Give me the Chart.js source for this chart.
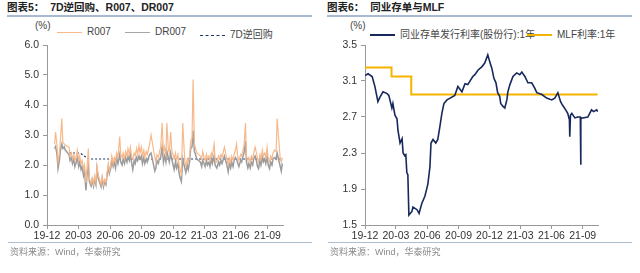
<!DOCTYPE html>
<html>
<head>
<meta charset="utf-8">
<script src="https://cdn.jsdelivr.net/npm/chart.js@4.4.0/dist/chart.umd.min.js"></script>
<style>
  body { margin: 0; background: #fff; width: 640px; height: 273px; overflow: hidden; position: relative;
         font-family: "Liberation Sans", Arial, "Noto Sans CJK SC", sans-serif; }
  .title { position: absolute; top: 1px; font-size: 10.5px; line-height: 13px; font-weight: bold; color: #222; white-space: nowrap; }
  .rule { position: absolute; height: 2px; background: #a9b9d0; }
  .src { position: absolute; top: 245px; font-size: 9px; color: #8a8a8a; white-space: nowrap; }
  .sep { position: absolute; top: 242px; height: 1px; background: #aebcd0; }
  .unit { position: absolute; top: 20px; font-size: 10px; color: #444; }
  .leg { position: absolute; top: 26px; font-size: 10px; color: #444; white-space: nowrap; }
  .leg span.k { display: inline-block; width: 25px; height: 0; vertical-align: middle; margin-right: 5px; }
  .leg .it { position: absolute; top: 0; }
  canvas { position: absolute; }
</style>
</head>
<body>
<div class="title" style="left:7px">图表5：&nbsp;&nbsp;7D逆回购、R007、DR007</div>
<div class="rule" style="left:7px; width:305px; top:15px"></div>
<div class="title" style="left:327px">图表6：&nbsp;&nbsp;同业存单与MLF</div>
<div class="rule" style="left:327px; width:305px; top:15px"></div>

<div class="unit" style="left:35px">(%)</div>
<div class="leg">
  <div class="it" style="left:57px"><span class="k" style="border-top:1.5px solid #f7b98b"></span>R007</div>
  <div class="it" style="left:125px"><span class="k" style="border-top:1.5px solid #a6a6a6"></span>DR007</div>
  <div class="it" style="left:200px"><span class="k" style="border-top:1.5px dashed #1f3368"></span>7D逆回购</div>
</div>
<div class="unit" style="left:350px">(%)</div>
<div class="leg">
  <div class="it" style="left:370px"><span class="k" style="border-top:2px solid #17285c"></span>同业存单发行利率(股份行):1年</div>
  <div class="it" style="left:527px"><span class="k" style="border-top:2px solid #f5b400"></span>MLF利率:1年</div>
</div>

<canvas id="left" width="300" height="215" style="left:0; top:30px"></canvas>
<canvas id="right" width="300" height="215" style="left:320px; top:30px"></canvas>

<div class="sep" style="left:8px; width:304px"></div>
<div class="sep" style="left:328px; width:304px"></div>
<div class="src" style="left:10px">资料来源：Wind，华泰研究</div>
<div class="src" style="left:330px">资料来源：Wind，华泰研究</div>

<script>
// x axis ticks (quarterly)
const tickDates = ['2019-12-01', '2020-03-01', '2020-06-01', '2020-09-01', '2020-12-01', '2021-03-01', '2021-06-01', '2021-09-01'];
const tickLabels = ['19-12', '20-03', '20-06', '20-09', '20-12', '21-03', '21-06', '21-09'];

// chart 5: R007 / DR007 (same dates)
const rateDates = [
  '2019-12-23','2019-12-26','2019-12-30','2020-01-02','2020-01-06','2020-01-09','2020-01-13','2020-01-16','2020-01-20','2020-01-23',
  '2020-02-03','2020-02-06','2020-02-10','2020-02-13','2020-02-17','2020-02-20','2020-02-24','2020-02-27',
  '2020-03-02','2020-03-05','2020-03-09','2020-03-12','2020-03-16','2020-03-19','2020-03-23','2020-03-26','2020-03-30',
  '2020-04-02','2020-04-07','2020-04-10','2020-04-14','2020-04-17','2020-04-21','2020-04-24','2020-04-28',
  '2020-05-06','2020-05-09','2020-05-13','2020-05-16','2020-05-20','2020-05-23','2020-05-27','2020-05-30',
  '2020-06-03','2020-06-06','2020-06-10','2020-06-13','2020-06-17','2020-06-20','2020-06-24','2020-06-29',
  '2020-07-02','2020-07-06','2020-07-09','2020-07-13','2020-07-16','2020-07-20','2020-07-23','2020-07-27','2020-07-30',
  '2020-08-03','2020-08-06','2020-08-10','2020-08-13','2020-08-17','2020-08-20','2020-08-24','2020-08-27','2020-08-31',
  '2020-09-03','2020-09-07','2020-09-10','2020-09-14','2020-09-17','2020-09-21','2020-09-24','2020-09-28',
  '2020-10-09','2020-10-12','2020-10-15','2020-10-19','2020-10-22','2020-10-26','2020-10-30',
  '2020-11-03','2020-11-06','2020-11-10','2020-11-13','2020-11-17','2020-11-20','2020-11-24','2020-11-27',
  '2020-12-01','2020-12-04','2020-12-08','2020-12-11','2020-12-15','2020-12-18','2020-12-22','2020-12-25','2020-12-29',
  '2021-01-04','2021-01-07','2021-01-11','2021-01-14','2021-01-18','2021-01-21','2021-01-25','2021-01-28',
  '2021-02-01','2021-02-04','2021-02-08','2021-02-18','2021-02-22','2021-02-25',
  '2021-03-01','2021-03-04','2021-03-08','2021-03-11','2021-03-15','2021-03-18','2021-03-22','2021-03-25','2021-03-30',
  '2021-04-02','2021-04-07','2021-04-12','2021-04-15','2021-04-19','2021-04-22','2021-04-26','2021-04-29',
  '2021-05-06','2021-05-10','2021-05-13','2021-05-17','2021-05-20','2021-05-24','2021-05-27','2021-05-31',
  '2021-06-03','2021-06-07','2021-06-10','2021-06-15','2021-06-18','2021-06-22','2021-06-25','2021-06-29',
  '2021-07-02','2021-07-06','2021-07-09','2021-07-13','2021-07-16','2021-07-20','2021-07-23','2021-07-27','2021-07-30',
  '2021-08-03','2021-08-06','2021-08-10','2021-08-13','2021-08-17','2021-08-20','2021-08-24','2021-08-27','2021-08-31',
  '2021-09-03','2021-09-07','2021-09-10','2021-09-14','2021-09-17','2021-09-22','2021-09-26','2021-09-29',
  '2021-10-08','2021-10-11','2021-10-14'
];
const r007 = [
  2.70,3.10,2.65,2.10,2.40,2.85,3.55,2.75,2.70,2.65,
  2.60,2.30,2.40,2.20,2.35,2.15,2.30,2.50,
  2.15,2.30,2.05,2.15,1.85,2.00,1.40,1.85,2.55,
  1.55,1.38,1.57,1.37,1.62,1.42,1.97,1.65,
  1.35,1.62,1.36,1.52,1.42,1.70,2.05,1.80,
  2.00,2.30,2.05,2.25,2.10,2.40,2.25,2.95,
  2.35,2.25,2.40,2.20,2.45,2.30,2.55,2.35,2.60,
  2.25,2.20,2.40,2.30,2.55,2.35,2.65,2.40,2.60,
  2.30,2.50,2.25,2.45,2.35,2.55,2.70,3.00,
  2.25,2.10,2.35,2.25,2.40,2.60,3.40,
  2.40,2.60,2.35,3.40,2.55,2.40,3.10,2.50,
  2.35,2.20,2.40,2.15,2.35,2.05,1.80,1.70,3.40,
  2.10,1.95,2.20,2.10,2.30,2.80,2.90,4.85,
  2.70,2.55,2.40,2.30,2.20,2.45,
  2.25,2.15,2.35,2.20,2.30,2.15,2.40,2.30,2.70,
  2.20,2.10,2.30,2.20,2.35,2.25,2.45,2.60,
  2.20,2.00,2.25,2.10,2.30,2.15,2.35,2.50,
  2.70,2.25,2.15,2.35,2.30,2.50,2.65,3.40,
  2.30,2.15,2.25,2.10,2.30,2.20,2.40,2.60,2.45,
  2.20,2.10,2.35,2.20,2.50,2.30,2.40,2.25,2.60,
  2.20,2.10,2.30,2.20,2.40,2.50,2.45,3.55,
  2.20,2.10,2.25
];
const dr007 = [
  2.55,2.62,2.35,1.88,2.15,2.50,2.70,2.55,2.60,2.50,
  2.35,2.15,2.25,2.05,2.20,1.95,2.10,2.25,
  1.95,2.10,1.85,1.95,1.65,1.80,1.15,1.65,1.95,
  1.45,1.30,1.50,1.30,1.55,1.35,1.88,1.55,
  1.28,1.55,1.28,1.45,1.35,1.62,1.95,1.72,
  1.90,2.15,1.95,2.10,1.90,2.25,2.05,2.35,
  2.10,2.00,2.20,2.05,2.25,2.10,2.30,2.15,2.35,
  2.05,1.85,2.15,2.05,2.25,2.15,2.30,2.20,2.30,
  2.05,2.25,2.05,2.20,2.10,2.25,2.35,2.40,
  1.80,1.90,2.15,2.05,2.20,2.25,2.60,
  2.10,2.30,2.10,2.45,2.25,2.10,2.40,2.20,
  2.00,1.85,2.10,1.90,2.05,1.75,1.55,1.45,2.20,
  1.90,1.75,2.00,1.85,2.10,2.55,2.60,3.15,
  2.45,2.35,2.20,2.10,1.95,2.15,
  2.05,1.95,2.15,2.00,2.10,1.95,2.20,2.05,2.30,
  2.00,1.90,2.10,2.00,2.15,2.05,2.20,2.30,
  2.00,1.78,2.05,1.90,2.10,1.95,2.15,2.25,
  2.20,2.05,1.95,2.15,2.10,2.30,2.40,2.80,
  2.10,1.90,2.05,1.90,2.10,2.00,2.20,2.30,2.20,
  1.95,1.88,2.15,2.00,2.25,2.10,2.20,2.05,2.30,
  2.00,1.88,2.10,2.00,2.20,2.25,2.20,2.40,
  1.95,1.80,2.05
];
// 7-day reverse repo rate
const repoDates = ['2020-02-03', '2020-03-06', '2020-03-30', '2021-10-14'];
const repo7d = [2.40, 2.40, 2.20, 2.20];

// chart 6: 1Y NCD (joint-stock banks) and 1Y MLF
const ncdDates = [
  '2019-12-01','2019-12-10','2019-12-22','2019-12-30','2020-01-08','2020-01-14','2020-01-23','2020-02-04','2020-02-09','2020-02-18',
  '2020-02-21','2020-02-27','2020-03-04','2020-03-07','2020-03-13','2020-03-19','2020-03-22','2020-03-27','2020-03-30','2020-04-02',
  '2020-04-05','2020-04-08','2020-04-17','2020-04-20','2020-05-02','2020-05-08','2020-05-16','2020-05-25','2020-05-31','2020-06-03',
  '2020-06-09','2020-06-12','2020-06-18','2020-06-26','2020-07-02','2020-07-08','2020-07-14','2020-07-20','2020-07-29','2020-08-07',
  '2020-08-21','2020-08-30','2020-09-11','2020-09-20','2020-09-28','2020-10-13','2020-10-19','2020-10-28','2020-11-09','2020-11-17',
  '2020-11-26','2020-12-02','2020-12-08','2020-12-14','2020-12-20','2020-12-25','2020-12-31','2021-01-03','2021-01-09','2021-01-15',
  '2021-01-21','2021-01-24','2021-01-30','2021-02-08','2021-02-19','2021-02-28','2021-03-06','2021-03-15','2021-03-24','2021-04-04',
  '2021-04-13','2021-04-19','2021-05-04','2021-05-18','2021-06-02','2021-06-11','2021-06-20','2021-06-28','2021-07-04','2021-07-13',
  '2021-07-19','2021-07-24','2021-07-25','2021-07-27','2021-07-31','2021-08-09','2021-08-17','2021-08-25','2021-08-26','2021-08-27',
  '2021-09-01','2021-09-16','2021-09-27','2021-10-03','2021-10-12','2021-10-15'
];
const ncd1y = [
  3.16,3.18,3.15,3.04,2.87,2.92,2.98,2.96,2.94,2.80,
  2.85,2.72,2.68,2.55,2.41,2.46,2.30,2.27,2.28,2.08,
  2.06,1.61,1.65,1.70,1.67,1.63,1.74,1.82,1.91,1.96,
  2.15,2.41,2.45,2.41,2.45,2.59,2.74,2.85,2.89,2.91,
  2.94,3.04,2.98,3.07,3.06,3.15,3.17,3.22,3.26,3.30,
  3.39,3.31,3.24,3.13,3.08,2.97,2.93,2.85,2.82,2.80,
  2.89,2.98,3.06,3.15,3.19,3.17,3.20,3.15,3.08,3.08,
  3.02,2.97,2.95,2.91,2.89,2.91,2.97,2.87,2.83,2.78,
  2.74,2.67,2.48,2.72,2.74,2.69,2.70,2.70,2.17,2.68,
  2.69,2.70,2.78,2.76,2.78,2.76
];
const mlfDates = ['2019-12-01', '2020-02-17', '2020-04-15', '2021-10-15'];
const mlf1y = [3.25, 3.15, 2.95, 2.95];

// day offset from 2019-12-01
function dayNum(s) {
  const p = s.split('-').map(Number);
  return (Date.UTC(p[0], p[1] - 1, p[2]) - Date.UTC(2019, 11, 1)) / 86400000;
}
function toPoints(dates, vals) {
  return dates.map((d, i) => ({ x: dayNum(d), y: vals[i] }));
}
const tickDays = tickDates.map(dayNum);

const tickFont = { family: '"Liberation Sans", Arial, sans-serif', size: 10.5 };

function xScale() {
  return {
    type: 'linear', min: 0, max: 685,
    afterBuildTicks: s => { s.ticks = tickDays.map(v => ({ value: v })); },
    afterFit: s => { s.height = 20; },
    ticks: {
      autoSkip: false, maxRotation: 0, padding: 1, color: '#333', font: tickFont,
      callback: v => tickLabels[tickDays.indexOf(v)]
    },
    grid: { drawOnChartArea: false, tickLength: 4, color: '#999' },
    border: { color: '#999' }
  };
}
function yScale(min, max, vals, width) {
  return {
    min: min, max: max,
    afterBuildTicks: s => { s.ticks = vals.map(v => ({ value: v })); },
    afterFit: s => { s.width = width; },
    ticks: { color: '#333', font: tickFont, padding: 4, callback: v => v.toFixed(1) },
    grid: { drawOnChartArea: false, tickLength: 4, color: '#999' },
    border: { color: '#999' }
  };
}
const baseOpts = {
  responsive: false, animation: false, devicePixelRatio: 1,
  plugins: { legend: { display: false }, tooltip: { enabled: false } },
  elements: { point: { radius: 0 }, line: { tension: 0 } }
};

new Chart(document.getElementById('left'), {
  type: 'line',
  data: {
    datasets: [
      { label: 'R007', data: toPoints(rateDates, r007), borderColor: '#f7b98b', borderWidth: 1.2 },
      { label: 'DR007', data: toPoints(rateDates, dr007), borderColor: '#9c9c9c', borderWidth: 1.5 },
      { label: '7D逆回购', data: toPoints(repoDates, repo7d), borderColor: '#1f3368', borderWidth: 1.2, borderDash: [2, 2] }
    ]
  },
  options: Object.assign({}, baseOpts, {
    layout: { padding: { top: 15, right: 17, left: 0, bottom: 0 } },
    scales: { x: xScale(), y: yScale(0, 6, [0, 1, 2, 3, 4, 5, 6], 47) }
  })
});

new Chart(document.getElementById('right'), {
  type: 'line',
  data: {
    datasets: [
      { label: '同业存单发行利率(股份行):1年', data: toPoints(ncdDates, ncd1y), borderColor: '#17285c', borderWidth: 1.6 },
      { label: 'MLF利率:1年', data: toPoints(mlfDates, mlf1y), borderColor: '#f5b400', borderWidth: 2, stepped: true }
    ]
  },
  options: Object.assign({}, baseOpts, {
    layout: { padding: { top: 15, right: 22, left: 0, bottom: 0 } },
    scales: { x: xScale(), y: yScale(1.5, 3.5, [1.5, 1.9, 2.3, 2.7, 3.1, 3.5], 45) }
  })
});
</script>
</body>
</html>
